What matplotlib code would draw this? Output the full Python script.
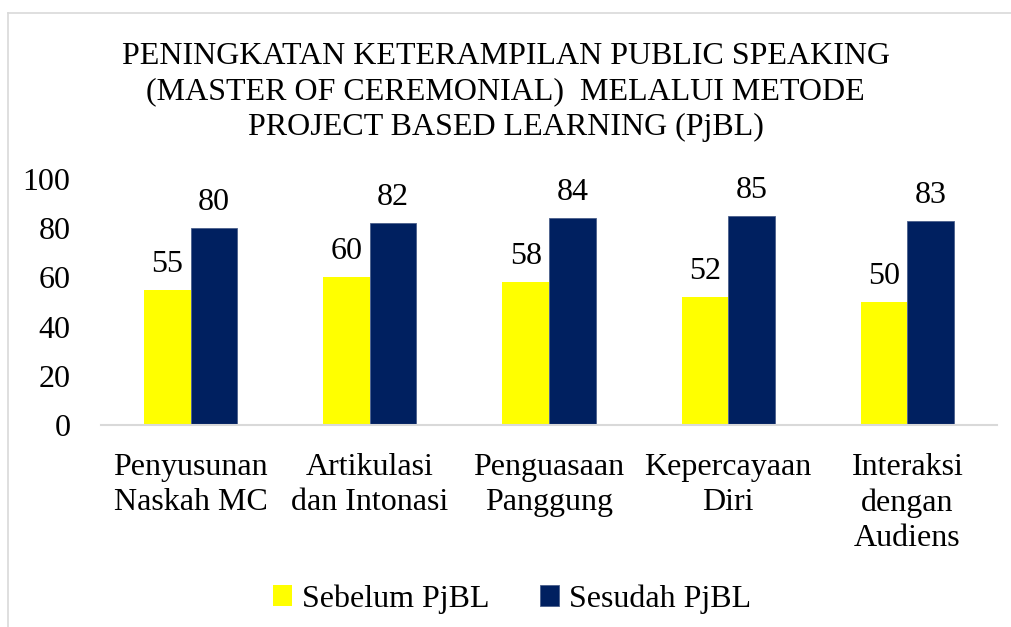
import numpy as np
import matplotlib.pyplot as plt
from matplotlib.lines import Line2D

categories = ["Penyusunan\nNaskah MC", "Artikulasi\ndan Intonasi", "Penguasaan\nPanggung",
              "Kepercayaan\nDiri", "Interaksi\ndengan\nAudiens"]
sebelum = [55, 60, 58, 52, 50]
sesudah = [80, 82, 84, 85, 83]
series_names = ["Sebelum PjBL", "Sesudah PjBL"]
title = ("PENINGKATAN KETERAMPILAN PUBLIC SPEAKING\n"
         "(MASTER OF CEREMONIAL)  MELALUI METODE\n"
         "PROJECT BASED LEARNING (PjBL)")

plt.rcParams['font.family'] = ['Liberation Serif', 'DejaVu Serif']

W, H = 1011, 627
fig = plt.figure(figsize=(W / 100, H / 100), dpi=100)

# chart frame (only left and top edges visible in the crop)
fig.add_artist(Line2D([8 / W, 8 / W], [0, 1 - 13 / H], color='#D9D9D9', lw=1.2))
fig.add_artist(Line2D([8 / W, 1], [1 - 13 / H, 1 - 13 / H], color='#D9D9D9', lw=1.2))

ax = fig.add_axes([101 / W, 1 - 425 / H, (997 - 101) / W, (425 - 179) / H])

x = np.arange(len(categories))
w = 0.26
ax.bar(x - w / 2, sebelum, w, color='#FFFF00', label=series_names[0])
ax.bar(x + w / 2, sesudah, w, color='#002060', edgecolor='#4a5f8a', linewidth=0.6,
       label=series_names[1])

for xi, v in zip(x - w / 2, sebelum):
    ax.annotate(str(v), (xi, v), xytext=(0, 8), textcoords='offset points',
                ha='center', va='bottom', fontsize=23)
for xi, v in zip(x + w / 2, sesudah):
    ax.annotate(str(v), (xi, v), xytext=(0, 8), textcoords='offset points',
                ha='center', va='bottom', fontsize=23)

ax.set_xlim(-0.5, len(categories) - 0.5)
ax.set_ylim(0, 100)
ax.set_yticks(range(0, 101, 20))
ax.set_xticks(x)
ax.set_xticklabels(categories, fontsize=23, linespacing=1.28)
ax.tick_params(axis='y', labelsize=23, length=0, pad=22)
ax.tick_params(axis='x', length=0, pad=20)
for s in ['top', 'right', 'left']:
    ax.spines[s].set_visible(False)
ax.spines['bottom'].set_color('#D9D9D9')
ax.spines['bottom'].set_linewidth(1.5)

fig.text(0.5, 1 - 92 / H, title, ha='center', va='center', fontsize=23, linespacing=1.28)

fig.legend(loc='center', bbox_to_anchor=(512 / W, 1 - 599 / H), ncol=2, frameon=False,
           fontsize=23, handlelength=0.6, handleheight=0.6, handletextpad=0.3,
           columnspacing=1.6)

fig.savefig('out.png', dpi=100)
